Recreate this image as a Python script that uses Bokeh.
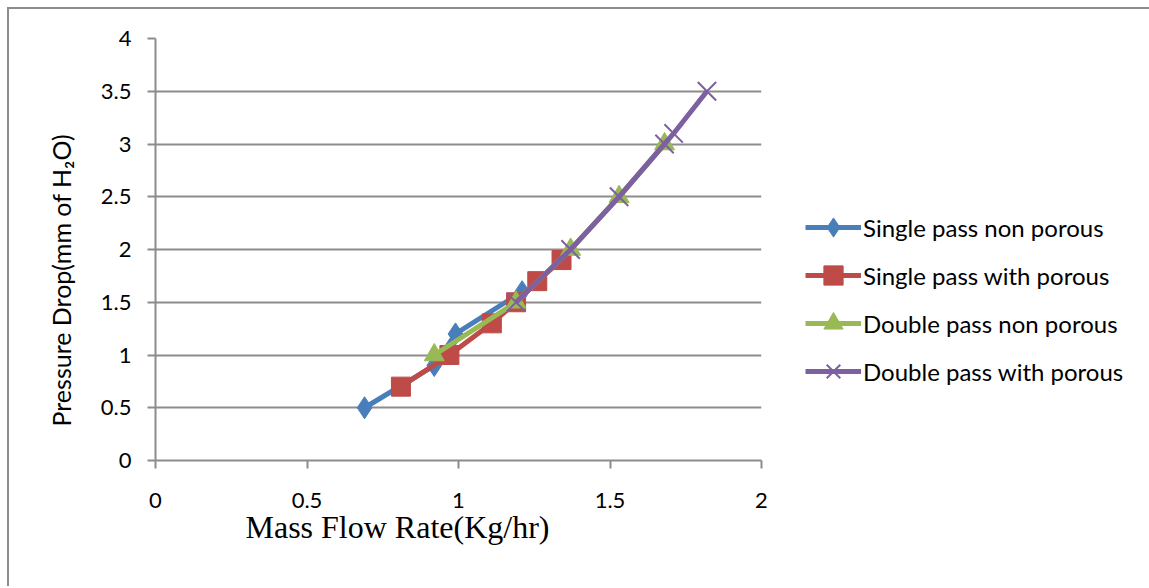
from bokeh.plotting import figure
from bokeh.models import Legend, LegendItem, Title, FixedTicker, Range1d
from bokeh.embed import file_html
from bokeh.resources import INLINE

# ---- data ----
x_ticks = [0, 0.5, 1, 1.5, 2]
y_ticks = [0, 0.5, 1, 1.5, 2, 2.5, 3, 3.5, 4]

sp_np_x = [0.69, 0.92, 0.99, 1.21]
sp_np_y = [0.5, 0.9, 1.2, 1.6]

sp_wp_x = [0.81, 0.97, 1.11, 1.19, 1.26, 1.34]
sp_wp_y = [0.7, 1.0, 1.3, 1.5, 1.7, 1.9]

dp_np_x = [0.92, 1.19, 1.37, 1.53, 1.68]
dp_np_y = [1.0, 1.5, 2.0, 2.5, 3.0]

dp_wp_x = [1.19, 1.37, 1.53, 1.68, 1.71, 1.82]
dp_wp_y = [1.5, 2.0, 2.5, 3.0, 3.1, 3.5]

labels = ["Single pass non porous", "Single pass with porous",
          "Double pass non porous", "Double pass with porous"]

FONT = "Lato"
GRID = "#8c8c8c"

p = figure(frame_width=606, frame_height=422, output_backend="svg",
           toolbar_location=None,
           x_range=Range1d(0, 2), y_range=Range1d(0, 4),
           min_border_left=146, min_border_right=386,
           min_border_top=29, min_border_bottom=126)
p.styles = {"margin-left": "7px", "margin-top": "7px",
            "border-left": "2px solid #8c8c8c", "border-top": "2px solid #8c8c8c"}
p.outline_line_color = None
p.background_fill_color = "white"
p.border_fill_color = "white"

p.xgrid.grid_line_color = None
p.ygrid.grid_line_color = GRID
p.ygrid.grid_line_width = 2
p.ygrid.ticker = FixedTicker(ticks=y_ticks)

p.xaxis.ticker = FixedTicker(ticks=x_ticks)
p.yaxis.ticker = FixedTicker(ticks=y_ticks)
for ax in (p.xaxis, p.yaxis):
    ax.axis_line_color = GRID
    ax.axis_line_width = 2
    ax.major_tick_line_color = GRID
    ax.major_tick_line_width = 2
    ax.major_tick_in = 0
    ax.major_tick_out = 8
    ax.minor_tick_line_color = None
    ax.major_label_text_font = FONT
    ax.major_label_text_font_size = "22px"
    ax.major_label_text_color = "black"
p.xaxis.major_label_standoff = 24
p.yaxis.major_label_standoff = 16

p.add_layout(Title(text="Pressure Drop(mm of H\u2082O)", text_font=FONT,
                   text_font_size="25px", text_font_style="normal",
                   text_color="black", align="left", offset=34,
                   standoff=43), "left")

p.add_layout(Title(text="Mass Flow Rate(Kg/hr)", text_font="Liberation Serif",
                   text_font_size="32px", text_font_style="normal",
                   text_color="black", align="left", offset=90,
                   standoff=-7), "below")

series = [
    (sp_np_x, sp_np_y, "#4A7EBB", "diamond", 22, 1),
    (sp_wp_x, sp_wp_y, "#BE4B48", "square", 19, 1),
    (dp_np_x, dp_np_y, "#98B954", "triangle", 20, 1),
    (dp_wp_x, dp_wp_y, "#7D60A0", "x", 26, 2),
]

items = []
for (xs, ys, col, mk, sz, lw), lab in zip(series, labels):
    ln = p.line(xs, ys, line_color=col, line_width=5)
    if mk == "x":
        sc = p.scatter(xs, ys, marker=mk, size=sz, line_color=col, line_width=lw)
    else:
        sc = p.scatter(xs, ys, marker=mk, size=sz, fill_color=col, line_color=col)
    items.append(LegendItem(label=lab, renderers=[ln, sc]))

legend = Legend(items=items, location=(44, 65),
                glyph_width=56, glyph_height=48, spacing=0,
                label_standoff=2, padding=0, margin=0,
                border_line_color=None, background_fill_alpha=0,
                label_text_font=FONT, label_text_font_size="24px",
                label_text_color="black")
p.add_layout(legend, "right")

open("out.html", "w").write(file_html(p, INLINE))
